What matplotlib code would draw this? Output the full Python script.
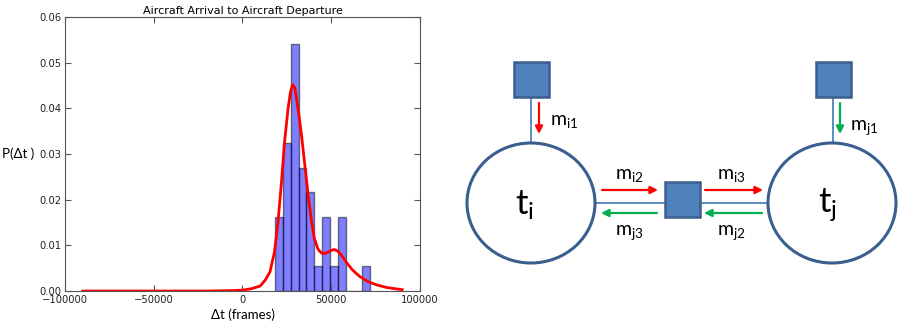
import numpy as np
import matplotlib
matplotlib.use("Agg")
import matplotlib.pyplot as plt
from matplotlib.patches import Ellipse, Rectangle

# =============================
# Dados do histograma
# =============================
bin_edges = np.linspace(18200, 71800, 13)
bar_heights = [0.0162, 0.0324, 0.0541, 0.0270, 0.0216, 0.0054,
               0.0162, 0.0054, 0.0162, 0.0, 0.0, 0.0054]

# curva de densidade estimada
curve_x = [-90000, -50000, -20000, -5000, 0, 5000, 10000, 13000, 15500,
           18000, 20000, 22000, 23800, 25700, 27000, 28200, 29500, 30500,
           32000, 33300, 35000, 37000, 39000, 40500, 42500, 44500, 46500,
           49000, 51500, 53500, 55500, 58500, 62000, 66000, 71000, 76000,
           81000, 86000, 90000]
curve_y = [0.0, 0.0, 0.0, 0.0001, 0.0002, 0.0005, 0.0011, 0.0025, 0.0042,
           0.0085, 0.015, 0.024, 0.033, 0.040, 0.0435, 0.0452, 0.0445, 0.042,
           0.038, 0.034, 0.028, 0.021, 0.015, 0.0115, 0.0092, 0.0083, 0.0082,
           0.0087, 0.0091, 0.0088, 0.0080, 0.0063, 0.0046, 0.0032, 0.0020,
           0.0013, 0.0008, 0.0005, 0.0003]

x_ticks = [-100000, -50000, 0, 50000, 100000]
y_ticks = [0.00, 0.01, 0.02, 0.03, 0.04, 0.05, 0.06]

# =============================
# Diagrama (posições em pixels da figura)
# =============================
circulos = {"i": (531, 203), "j": (832, 203)}
raio_x, raio_y = 64, 60
quadrados = [(531.5, 79.5), (833.5, 79.5), (682, 199)]
lado = 35

azul = "#4F81BD"
azul_borda = "#3A5F8F"
vermelho = "#FF0000"
verde = "#00B050"

plt.rcParams["mathtext.default"] = "regular"

fig = plt.figure(figsize=(9.07, 3.27), dpi=100)

# ---------- histograma ----------
ax = fig.add_axes([0.0717, 0.110, 0.3913, 0.838])
widths = np.diff(bin_edges)
ax.bar(bin_edges[:-1], bar_heights, width=widths, align="edge",
       color="blue", alpha=0.5, edgecolor="black", linewidth=1)
ax.plot(curve_x, curve_y, color="red", linewidth=2)
ax.set_xlim(-100000, 100000)
ax.set_ylim(0, 0.06)
ax.set_xticks(x_ticks)
ax.set_yticks(y_ticks)
ax.set_xticklabels([f"{v:d}".replace("-", "\u2212") for v in x_ticks])
ax.set_yticklabels([f"{v:.2f}" for v in y_ticks])
ax.tick_params(direction="in", top=True, right=True, length=4,
               labelsize=7.2, color="#555555", labelcolor="#222222", pad=2.5)
for s in ax.spines.values():
    s.set_color("#555555")
ax.set_title("Aircraft Arrival to Aircraft Departure", fontsize=8, pad=2)
ax.set_xlabel("\u0394t (frames)", fontsize=9.5, family="Lato", labelpad=3)
ax.set_ylabel("P(\u0394t )", fontsize=9.5, family="Lato", rotation=0,
              ha="center", va="center")
ax.yaxis.set_label_coords(-0.133, 0.5)

# ---------- diagrama ----------
ad = fig.add_axes([0, 0, 1, 1])
ad.set_xlim(0, 907)
ad.set_ylim(327, 0)
ad.axis("off")

# linhas de ligação
ad.plot([531, 531], [97, 143], color=azul, lw=1.3, zorder=1)
ad.plot([833, 833], [97, 143], color=azul, lw=1.3, zorder=1)
ad.plot([595, 768], [203, 203], color=azul, lw=1.3, zorder=1)

for nome, (cx, cy) in circulos.items():
    ad.add_patch(Ellipse((cx, cy), 2 * raio_x, 2 * raio_y, facecolor="white",
                         edgecolor=azul_borda, lw=2.2, zorder=2))

for (qx, qy) in quadrados:
    ad.add_patch(Rectangle((qx - lado / 2, qy - lado / 2), lado, lado,
                           facecolor=azul, edgecolor=azul_borda, lw=1.8,
                           zorder=3))


def seta(x0, y0, x1, y1, cor):
    ad.annotate("", xy=(x1, y1), xytext=(x0, y0),
                arrowprops=dict(arrowstyle="-|>", color=cor, lw=1.6,
                                mutation_scale=11, shrinkA=0, shrinkB=0))


seta(539, 103, 539, 134, vermelho)
seta(840, 103, 840, 134, verde)
seta(602, 190, 658, 190, vermelho)
seta(657, 213, 601, 213, verde)
seta(705, 190, 763, 190, vermelho)
seta(762, 213, 704, 213, verde)

fs = 14
ad.text(550, 122, "$m_{i1}$", fontsize=fs, family="Lato", va="center")
ad.text(850, 128, "$m_{j1}$", fontsize=fs, family="Lato", va="center")
ad.text(629, 175, "$m_{i2}$", fontsize=fs, family="Lato", ha="center", va="center")
ad.text(629, 233, "$m_{j3}$", fontsize=fs, family="Lato", ha="center", va="center")
ad.text(731, 175, "$m_{i3}$", fontsize=fs, family="Lato", ha="center", va="center")
ad.text(731, 233, "$m_{j2}$", fontsize=fs, family="Lato", ha="center", va="center")
ad.text(525, 205, "$t_{i}$", fontsize=25, family="Lato", ha="center", va="center")
ad.text(828, 205, "$t_{j}$", fontsize=25, family="Lato", ha="center", va="center")

fig.savefig("out.png", dpi=100)
